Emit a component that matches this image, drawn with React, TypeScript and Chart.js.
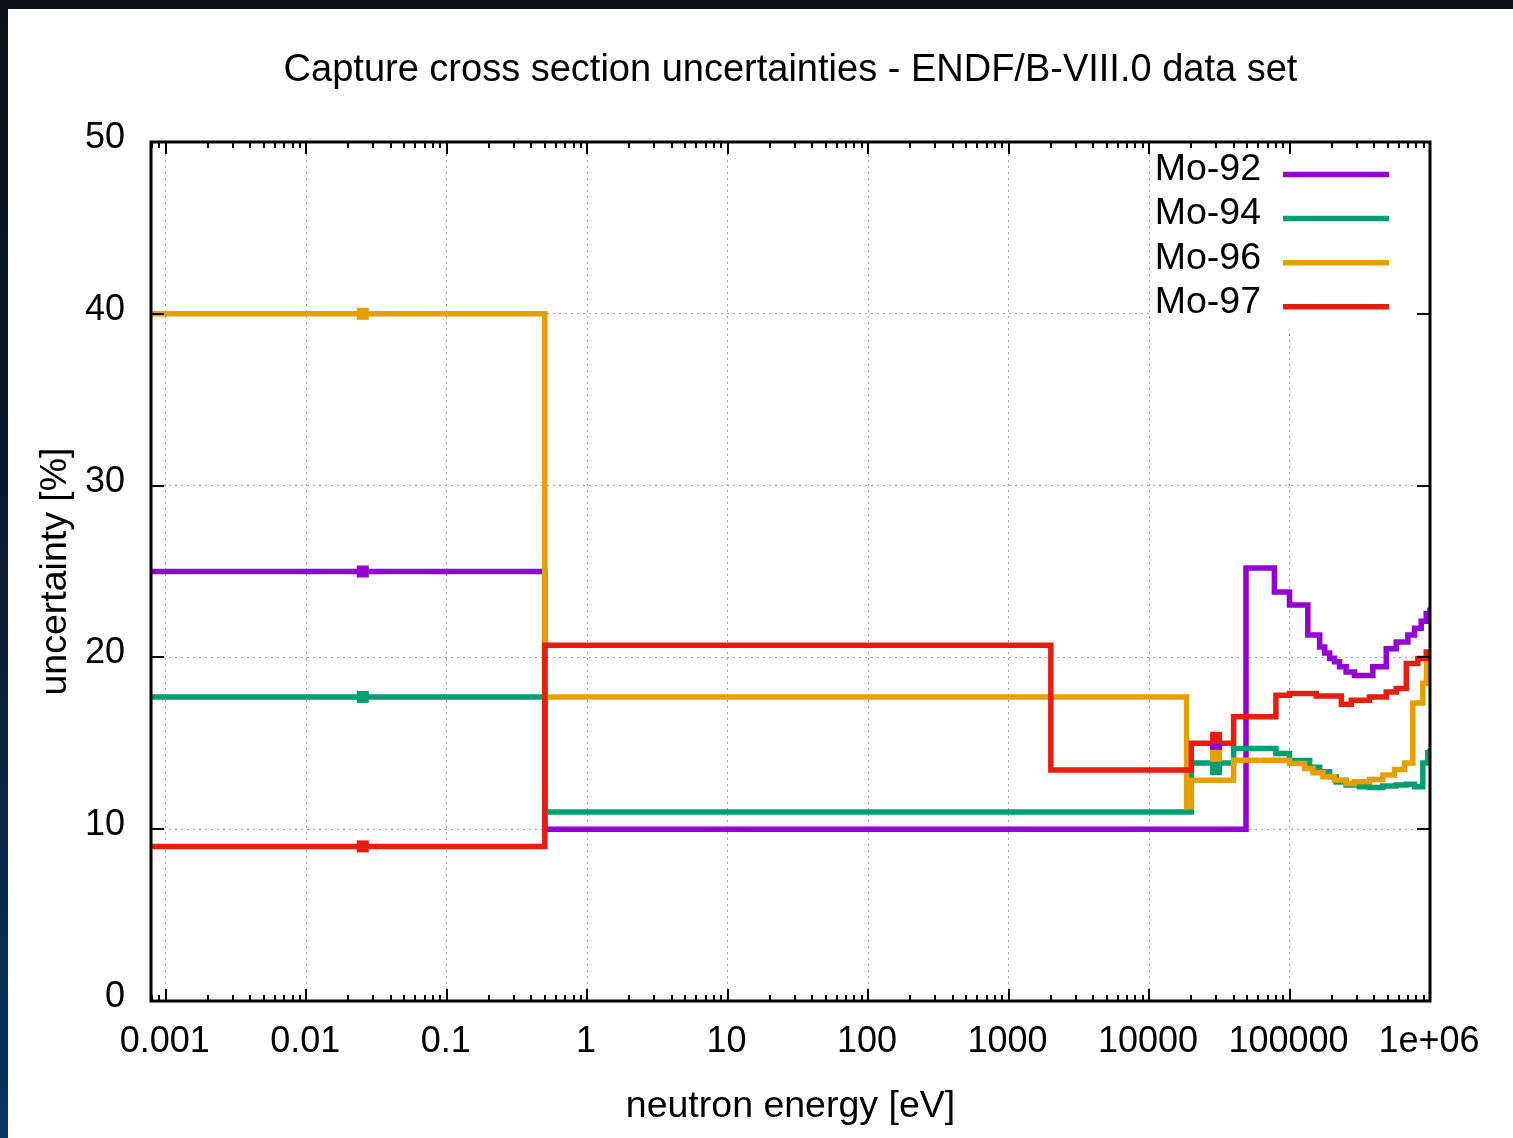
import { useEffect, useRef } from 'react';
import { Chart, registerables } from 'chart.js';

Chart.register(...registerables);

const FONT = "'Liberation Sans', Arial, Helvetica, sans-serif";

const chartTitle = 'Capture cross section uncertainties - ENDF/B-VIII.0 data set';
const xAxisTitle = 'neutron energy [eV]';
const yAxisTitle = 'uncertainty [%]';

const seriesLabels = ['Mo-92', 'Mo-94', 'Mo-96', 'Mo-97'];
const seriesColors = ['#9400d3', '#009e73', '#e69f00', '#e51e10'];

// group lower-edge energies [eV] and uncertainties [%] (last point closes the final group)
const mo92Energy = [1e-5, 0.5, 4.9e4, 7.8e4, 1e5, 1.35e5, 1.64e5, 1.78e5, 1.93e5, 2.09e5, 2.27e5, 2.53e5, 2.9e5, 3.92e5, 4.88e5, 5.75e5, 6.96e5, 7.76e5, 8.66e5, 9.4e5, 1e6];
const mo92Unc = [25.0, 10.0, 25.2, 23.8, 23.05, 21.3, 20.6, 20.25, 19.95, 19.75, 19.45, 19.15, 18.95, 19.45, 20.5, 20.9, 21.3, 21.7, 22.1, 22.55, 22.9];

const mo94Energy = [1e-5, 0.5, 2e4, 4e4, 8e4, 1e5, 1.39e5, 1.64e5, 1.93e5, 2.15e5, 2.53e5, 3.15e5, 3.71e5, 4.62e5, 5.75e5, 6.78e5, 7.76e5, 8.89e5, 9.65e5, 1e6];
const mo94Unc = [17.7, 11.0, 13.85, 14.7, 14.4, 14.0, 13.6, 13.35, 13.05, 12.75, 12.57, 12.47, 12.43, 12.51, 12.57, 12.62, 12.47, 13.85, 14.45, 14.7];

const mo96Energy = [1e-5, 0.5, 1.85e4, 2e4, 4e4, 1e5, 1.28e5, 1.47e5, 1.73e5, 2.09e5, 2.53e5, 2.9e5, 3.71e5, 4.62e5, 5.59e5, 6.59e5, 7.55e5, 8.89e5, 9.45e5, 1e6];
const mo96Unc = [40.0, 17.7, 11.3, 12.85, 14.02, 13.83, 13.54, 13.28, 13.05, 12.86, 12.66, 12.76, 12.9, 13.15, 13.48, 13.86, 17.34, 18.5, 19.66, 20.0];

const mo97Energy = [1e-5, 0.5, 2000, 2e4, 4e4, 8e4, 1e5, 1.55e5, 2.34e5, 2.75e5, 3.71e5, 4.88e5, 5.75e5, 6.78e5, 8.19e5, 9.4e5, 1e6];
const mo97Unc = [9.0, 20.7, 13.45, 15.0, 16.55, 17.8, 17.9, 17.76, 17.28, 17.51, 17.7, 17.99, 18.19, 19.65, 19.94, 20.32, 20.4];

// point values at thermal energy and at 30 keV (same isotope order)
const thermalEnergy = 0.0253;
const thermalUnc = [25.0, 17.7, 40.0, 9.0];
const kev30Energy = 3e4;
const kev30Unc = [14.9, 13.5, 14.27, 15.32];

const xTickValues = [0.001, 0.01, 0.1, 1, 10, 100, 1000, 10000, 100000, 1000000];
const xTickLabels = ['0.001', '0.01', '0.1', '1', '10', '100', '1000', '10000', '100000', '1e+06'];
const xMinorMultipliers = [2, 3, 4, 5, 6, 7, 8, 9];
const yTickLabels = ['0', '10', '20', '30', '40', '50'];
const yTickValues = [0, 10, 20, 30, 40, 50];
const xMin = 7.86e-4;
const xMax = 1e6;
const yMin = 0;
const yMax = 50;

const energies = [mo92Energy, mo94Energy, mo96Energy, mo97Energy];
const uncs = [mo92Unc, mo94Unc, mo96Unc, mo97Unc];

const gnuplotDecor = {
  id: 'gnuplotDecor',
  beforeDatasetsDraw(chart: any) {
    const { ctx, chartArea: ca } = chart;
    ctx.save();
    ctx.fillStyle = '#ffffff';
    ctx.fillRect(ca.right - 279, ca.top, 262, 187);
    ctx.restore();
  },
  afterDatasetsDraw(chart: any) {
    const { ctx, chartArea: ca, scales } = chart;
    const xs = scales.x;
    const ys = scales.y;
    ctx.save();
    ctx.strokeStyle = '#000000';
    ctx.lineWidth = 2;
    ctx.beginPath();
    for (let e = -4; e <= 5; e++) {
      for (const m of xMinorMultipliers) {
        const v = m * Math.pow(10, e);
        if (v < xMin || v > xMax) continue;
        const px = Math.round(xs.getPixelForValue(v));
        ctx.moveTo(px, ca.bottom);
        ctx.lineTo(px, ca.bottom - 6);
        ctx.moveTo(px, ca.top);
        ctx.lineTo(px, ca.top + 6);
      }
    }
    xTickValues.forEach((v) => {
      const px = Math.round(xs.getPixelForValue(v));
      ctx.moveTo(px, ca.bottom);
      ctx.lineTo(px, ca.bottom - 12);
      ctx.moveTo(px, ca.top);
      ctx.lineTo(px, ca.top + 12);
    });
    yTickValues.forEach((v) => {
      const py = Math.round(ys.getPixelForValue(v));
      ctx.moveTo(ca.left, py);
      ctx.lineTo(ca.left + 13, py);
      ctx.moveTo(ca.right, py);
      ctx.lineTo(ca.right - 13, py);
    });
    ctx.stroke();
    ctx.lineWidth = 3;
    ctx.strokeRect(ca.left, ca.top, ca.right - ca.left, ca.bottom - ca.top);

    // key
    ctx.font = `37.5px ${FONT}`;
    ctx.textAlign = 'right';
    ctx.textBaseline = 'middle';
    ctx.fillStyle = '#000000';
    ctx.lineCap = 'butt';
    seriesLabels.forEach((lab, i) => {
      ctx.fillText(lab, ca.right - 169, ca.top + 28 + i * 44.1);
      ctx.strokeStyle = seriesColors[i];
      ctx.lineWidth = 5.5;
      ctx.beginPath();
      const ly = ca.top + 32.5 + i * 44.1;
      ctx.moveTo(ca.right - 147, ly);
      ctx.lineTo(ca.right - 41, ly);
      ctx.stroke();
    });
    ctx.restore();
  },
};

export default function App() {
  const canvasRef = useRef<HTMLCanvasElement | null>(null);

  useEffect(() => {
    if (!canvasRef.current) return;
    Chart.defaults.font.family = FONT;
    Chart.defaults.color = '#000000';

    const lineSets = seriesLabels.map((label, i) => ({
      type: 'line' as const,
      label,
      data: energies[i].map((e, k) => ({ x: e, y: uncs[i][k] })),
      borderColor: seriesColors[i],
      backgroundColor: seriesColors[i],
      borderWidth: 5.5,
      borderCapStyle: 'butt' as const,
      borderJoinStyle: 'miter' as const,
      stepped: 'before' as const,
      pointRadius: 0,
      fill: false,
      order: 13 - i,
    }));

    const pointSets = seriesLabels.map((label, i) => ({
      type: 'line' as const,
      label: `${label} points`,
      data: [
        { x: thermalEnergy, y: thermalUnc[i] },
        { x: kev30Energy, y: kev30Unc[i] },
      ],
      showLine: false,
      pointStyle: 'rect' as const,
      pointRadius: 8.5,
      pointBorderWidth: 0,
      pointBackgroundColor: seriesColors[i],
      borderColor: seriesColors[i],
      order: 3 - i,
    }));

    const chart = new Chart(canvasRef.current, {
      type: 'line',
      data: { datasets: [...lineSets, ...pointSets] as any },
      options: {
        responsive: false,
        maintainAspectRatio: false,
        devicePixelRatio: 1,
        animation: false,
        events: [],
        layout: { padding: { top: 0, left: 0, right: 83, bottom: 0 } },
        plugins: {
          legend: { display: false },
          tooltip: { enabled: false },
          title: {
            display: true,
            text: chartTitle,
            fullSize: false,
            color: '#000000',
            font: { family: FONT, size: 38, weight: 'normal', lineHeight: 1.2 },
            padding: { top: 39, bottom: 48.4 },
          },
        },
        scales: {
          x: {
            type: 'logarithmic',
            min: xMin,
            max: xMax,
            bounds: 'data',
            afterBuildTicks: (scale: any) => {
              scale.ticks = xTickValues.map((v) => ({ value: v }));
            },
            afterFit: (scale: any) => {
              scale.height = 137;
            },
            grid: { color: '#a0a0a0', lineWidth: 1, drawTicks: false },
            border: { display: false, dash: [2, 4] },
            ticks: {
              autoSkip: false,
              maxRotation: 0,
              minRotation: 0,
              padding: 19,
              labelOffset: -1,
              color: '#000000',
              font: { family: FONT, size: 36, lineHeight: 1.2 },
              callback: (_v: any, index: number) => xTickLabels[index],
            },
            title: {
              display: true,
              text: xAxisTitle,
              color: '#000000',
              font: { family: FONT, size: 37.5, lineHeight: 1.2 },
              padding: { top: 0, bottom: 9 },
            },
          },
          y: {
            type: 'linear',
            min: yMin,
            max: yMax,
            afterFit: (scale: any) => {
              scale.width = 143;
            },
            grid: { color: '#a0a0a0', lineWidth: 1, drawTicks: false },
            border: { display: false, dash: [2, 4] },
            ticks: {
              stepSize: 10,
              padding: 26,
              labelOffset: -4,
              color: '#000000',
              font: { family: FONT, size: 36, lineHeight: 1.2 },
              callback: (_v: any, index: number) => yTickLabels[index],
            },
            title: {
              display: true,
              text: yAxisTitle,
              color: '#000000',
              font: { family: FONT, size: 37.5, lineHeight: 1.2 },
              padding: { top: 25.5, bottom: 0 },
            },
          },
        },
      },
      plugins: [gnuplotDecor],
    });
    return () => chart.destroy();
  }, []);

  return (
    <div
      style={{
        position: 'absolute',
        left: 0,
        top: 0,
        width: 1513,
        height: 1138,
        overflow: 'hidden',
        background: 'linear-gradient(180deg, #0b1119 0%, #0b1a2c 45%, #063463 100%)',
      }}
    >
      <div
        style={{
          position: 'absolute',
          left: 8,
          top: 9,
          width: 1505,
          height: 1129,
          background: '#ffffff',
        }}
      >
        <canvas ref={canvasRef} width={1505} height={1129} style={{ display: 'block' }} />
      </div>
    </div>
  );
}
